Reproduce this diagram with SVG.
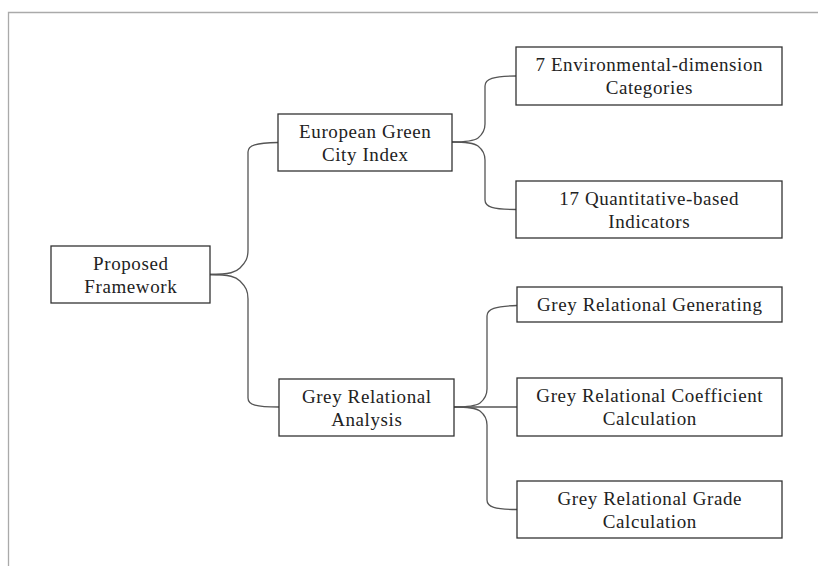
<svg xmlns="http://www.w3.org/2000/svg" width="818" height="566" viewBox="0 0 818 566">
<style>
.box{fill:#fff;stroke:#333;stroke-width:1.3}
.t{font-family:"Liberation Serif","DejaVu Serif",serif;font-size:19px;letter-spacing:0.6px;fill:#222;text-anchor:middle}
.c{fill:none;stroke:#555;stroke-width:1.3}
</style>
<rect width="818" height="566" fill="#fff"/>
<path d="M8.5 566 V12.5 H818" fill="none" stroke="#aaa" stroke-width="1.3"/>
<g id="connectors">
<path class="c" d="M210 274.5 C230 274.5 236 272 240 268 C246 262 248 258 248 250 V152 C248 145 256 143 278 142.5"/>
<path class="c" d="M210 274.5 C230 274.5 236 277 240 281 C246 287 248 291 248 299 V398 C248 405 256 407 279 407"/>
<path class="c" d="M452 142 C468 142 474 141 478 138 C483 134 485 130 485 124 V86 C485 79 493 76 516 76"/>
<path class="c" d="M452 142 C468 142 474 143 478 146 C483 150 485 154 485 160 V200 C485 207 493 209.5 516 209.5"/>
<path class="c" d="M454 407 C470 407 476 406 480 403 C485 399 487 395 487 389 V316 C487 309 495 306 517 305.5"/>
<path class="c" d="M454 407 H517"/>
<path class="c" d="M454 407 C470 407 476 408 480 411 C485 415 487 419 487 425 V500 C487 507 495 509.5 517 509.5"/>
</g>
<g id="n-proposed"><rect class="box" x="51" y="246" width="159" height="57"/><text class="t" x="130.8" y="270">Proposed</text><text class="t" x="130.8" y="293">Framework</text></g>
<g id="n-egci"><rect class="box" x="278" y="114" width="174" height="57"/><text class="t" x="365.3" y="138">European Green</text><text class="t" x="365.3" y="161">City Index</text></g>
<g id="n-gra"><rect class="box" x="279" y="379" width="175" height="57"/><text class="t" x="366.8" y="403">Grey Relational</text><text class="t" x="366.8" y="426">Analysis</text></g>
<g id="n-env"><rect class="box" x="516" y="47" width="266" height="58"/><text class="t" x="649.3" y="71">7 Environmental-dimension</text><text class="t" x="649.3" y="94">Categories</text></g>
<g id="n-quant"><rect class="box" x="516" y="181" width="266" height="57"/><text class="t" x="649.3" y="205">17 Quantitative-based</text><text class="t" x="649.3" y="228">Indicators</text></g>
<g id="n-gen"><rect class="box" x="517" y="287" width="265" height="35"/><text class="t" x="649.8" y="311">Grey Relational Generating</text></g>
<g id="n-coef"><rect class="box" x="517" y="378" width="265" height="58"/><text class="t" x="649.8" y="402">Grey Relational Coefficient</text><text class="t" x="649.8" y="425">Calculation</text></g>
<g id="n-grade"><rect class="box" x="517" y="481" width="265" height="57"/><text class="t" x="649.8" y="505">Grey Relational Grade</text><text class="t" x="649.8" y="528">Calculation</text></g>
</svg>
